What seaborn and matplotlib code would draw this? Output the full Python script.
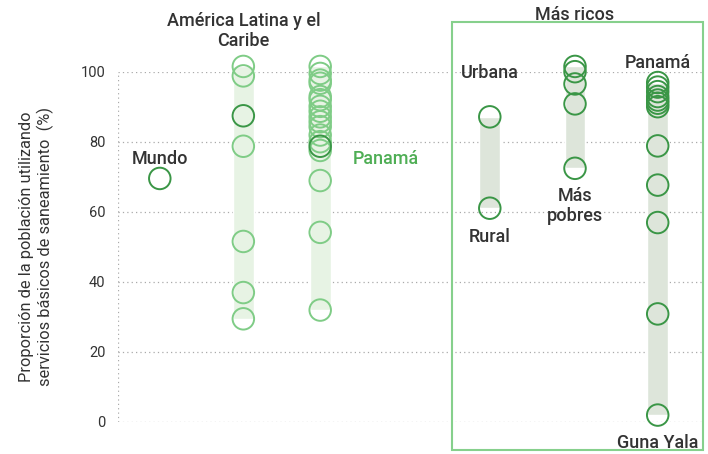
import pandas as pd
import seaborn as sns
import matplotlib.pyplot as plt
from matplotlib.patches import Rectangle

# valores (%)
mundo = [69.5]
alc_paises = [101.5, 98.8, 78.7, 51.5, 36.9, 29.4]
alc_panama = [87.4]
panama_prov = [101.5, 99.5, 97.6, 96.7, 92.9, 92.0, 90.1, 88.7, 87.1, 85.7,
               84.3, 81.9, 80.0, 77.5, 68.9, 54.1, 31.9]
panama_nac = [78.7]
area = [87.1, 61.0]                      # Urbana, Rural
quintil = [101.5, 100.0, 96.5, 90.8, 72.4]  # Más ricos ... Más pobres
region = [96.9, 95.6, 94.3, 92.9, 91.9, 91.0, 90.0, 78.8, 67.6, 56.9, 30.8, 1.9]

# posicion horizontal de cada columna
col_x = {'mundo': 0.5, 'alc': 1.5, 'pan': 2.42, 'area': 4.45, 'quintil': 5.47, 'region': 6.46}

CLARO = '#7fcc86'
OSCURO = '#3a9646'
TEXTO = '#333333'

rows = []
def add(col, vals, tono):
    for v in vals:
        rows.append({'x': col_x[col], 'valor': v, 'tono': tono, 'col': col})

add('mundo', mundo, 'oscuro')
add('alc', alc_paises, 'claro')
add('alc', alc_panama, 'oscuro')
add('pan', panama_prov, 'claro')
add('pan', panama_nac, 'oscuro')
add('area', area, 'oscuro')
add('quintil', quintil, 'oscuro')
add('region', region, 'oscuro')
df = pd.DataFrame(rows)

sns.set_style('white')
plt.rcParams['font.family'] = ['Roboto', 'DejaVu Sans']

fig = plt.figure(figsize=(7.08, 4.54), dpi=100)
ax = fig.add_axes([0.1667, 0.0711, 0.826, 0.771])

# bandas de rango
bandas = {'alc': '#e7f3e4', 'pan': '#e7f3e4', 'area': '#dde5da',
          'quintil': '#dde5da', 'region': '#dde5da'}
for col, c in bandas.items():
    sub = df[df['col'] == col]
    lo, hi = sub['valor'].min(), sub['valor'].max()
    ax.bar(col_x[col], hi - lo, bottom=lo, width=0.25, color=c, zorder=1, clip_on=False)

for tono, c in [('claro', CLARO), ('oscuro', OSCURO)]:
    sub = df[df['tono'] == tono]
    sns.scatterplot(data=sub, x='x', y='valor', ax=ax, s=240, color=c,
                    facecolor='none', edgecolor=c, linewidth=1.4,
                    zorder=3, clip_on=False, legend=False)

ax.set_xlim(0, 7)
ax.set_ylim(0, 100)
ax.set_yticks([0, 20, 40, 60, 80, 100])
ax.set_xticks([])
ax.set_xlabel('')
ax.set_ylabel('Proporción de la población utilizando\nservicios básicos de saneamiento  (%)',
              fontsize=11.8, color=TEXTO, labelpad=19)
ax.tick_params(axis='y', length=0, pad=9, labelsize=10.5, labelcolor=TEXTO)
for y in [0, 20, 40, 60, 80, 100]:
    ax.axhline(y, color='#aaaaaa', lw=0.9, ls=(0, (1, 2.5)), zorder=0)
ax.axvline(0, color='#aaaaaa', lw=0.9, ls=(0, (1, 2.5)), zorder=0)
for s in ax.spines.values():
    s.set_visible(False)

# etiquetas
kw = dict(ha='center', va='center', fontsize=13, color=TEXTO, fontweight='medium')
ax.text(col_x['mundo'], 75.0, 'Mundo', **kw)
ax.text(col_x['alc'], 111.5, 'América Latina y el\nCaribe', linespacing=1.15, **kw)
ax.text(3.2, 75.0, 'Panamá', ha='center', va='center', fontsize=13,
        color='#4fae55', fontweight='medium')
ax.text(col_x['area'], 99.5, 'Urbana', **kw)
ax.text(col_x['area'], 52.7, 'Rural', **kw)
ax.text(col_x['quintil'], 61.5, 'Más\npobres', linespacing=1.15, **kw)
ax.text(col_x['region'], 102.5, 'Panamá', **kw)
ax.text(col_x['region'], -6, 'Guna Yala', **kw)
ax.text(col_x['quintil'], 116.3, 'Más ricos', **kw)

fig.patches.append(Rectangle((0.638, 0.009), 0.3545, 0.943, transform=fig.transFigure,
                             fill=False, edgecolor='#86d08c', lw=1.5))

plt.savefig('out.png', dpi=100)
